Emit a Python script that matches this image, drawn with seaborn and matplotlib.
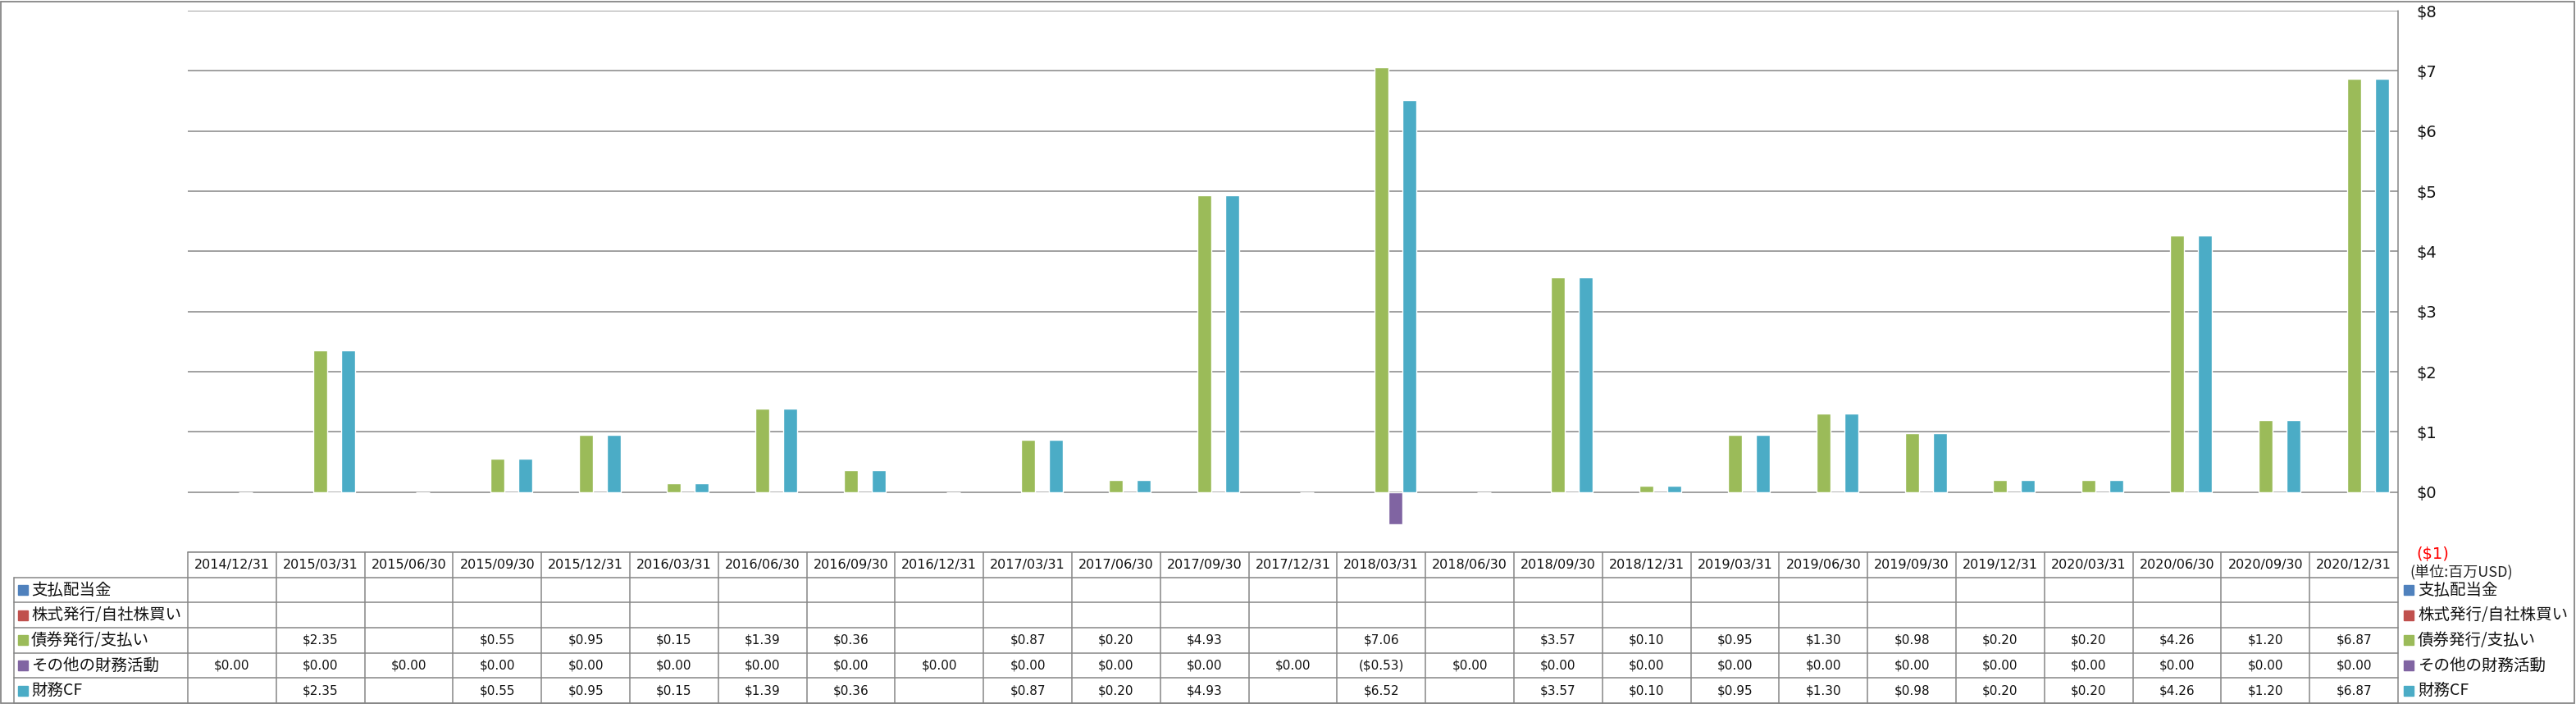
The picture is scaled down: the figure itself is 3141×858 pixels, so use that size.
import numpy as np
import pandas as pd
import matplotlib
matplotlib.use("Agg")
import matplotlib.pyplot as plt
import seaborn as sns
from matplotlib.patches import Rectangle
from matplotlib.lines import Line2D

# ---------------- data ----------------
dates = ["2014/12/31", "2015/03/31", "2015/06/30", "2015/09/30", "2015/12/31",
         "2016/03/31", "2016/06/30", "2016/09/30", "2016/12/31", "2017/03/31",
         "2017/06/30", "2017/09/30", "2017/12/31", "2018/03/31", "2018/06/30",
         "2018/09/30", "2018/12/31", "2019/03/31", "2019/06/30", "2019/09/30",
         "2019/12/31", "2020/03/31", "2020/06/30", "2020/09/30", "2020/12/31"]

series_names = ["支払配当金", "株式発行/自社株買い", "債券発行/支払い", "その他の財務活動", "財務CF"]

dividends = [None, None, None, None, None, None, None, None, None, None, None, None, None,
             None, None, None, None, None, None, None, None, None, None, None, None]
buyback = [None, None, None, None, None, None, None, None, None, None, None, None, None,
           None, None, None, None, None, None, None, None, None, None, None, None]
debt = [None, 2.35, None, 0.55, 0.95, 0.15, 1.39, 0.36, None, 0.87, 0.20, 4.93, None,
        7.06, None, 3.57, 0.10, 0.95, 1.30, 0.98, 0.20, 0.20, 4.26, 1.20, 6.87]
other = [0.00, 0.00, 0.00, 0.00, 0.00, 0.00, 0.00, 0.00, 0.00, 0.00, 0.00, 0.00, 0.00,
         -0.53, 0.00, 0.00, 0.00, 0.00, 0.00, 0.00, 0.00, 0.00, 0.00, 0.00, 0.00]
fin_cf = [None, 2.35, None, 0.55, 0.95, 0.15, 1.39, 0.36, None, 0.87, 0.20, 4.93, None,
          6.52, None, 3.57, 0.10, 0.95, 1.30, 0.98, 0.20, 0.20, 4.26, 1.20, 6.87]

series_values = [dividends, buyback, debt, other, fin_cf]
colors = ["#4F81BD", "#C0504D", "#9BBB59", "#8064A2", "#4BACC6"]
y_ticks = [-1, 0, 1, 2, 3, 4, 5, 6, 7, 8]
unit_label = "(単位:百万USD)"

rows = []
for name, vals in zip(series_names, series_values):
    for d, v in zip(dates, vals):
        rows.append({"date": d, "series": name,
                     "value": np.nan if v is None else float(v)})
df = pd.DataFrame(rows)

# ---------------- style ----------------
sns.set_style("white")
plt.rcParams["font.family"] = ["DejaVu Sans", "Noto Sans CJK JP"]
CJK = ["Noto Sans CJK JP", "DejaVu Sans"]

W, H = 3141, 858
GRID = "#868686"
fig = plt.figure(figsize=(W / 100, H / 100), dpi=100)

PL, PR, PT, PB = 229, 2924, 13, 673   # plot area in pixels
ax = fig.add_axes([PL / W, 1 - PB / H, (PR - PL) / W, (PB - PT) / H])

sns.barplot(data=df, x="date", y="value", hue="series", order=dates,
            hue_order=series_names, palette=colors, width=0.787, gap=0,
            errorbar=None, legend=False, saturation=1, ax=ax)

ax.set_xlim(-0.5, len(dates) - 0.5)
ax.set_ylim(y_ticks[0], y_ticks[-1])
ax.set_yticks(y_ticks)
ax.set_yticklabels([f"${v}" if v >= 0 else f"(${-v})" for v in y_ticks])
ax.yaxis.tick_right()
ax.tick_params(axis="y", length=0, pad=16, labelsize=14, labelcolor="#111111")
for t, v in zip(ax.get_yticklabels(), y_ticks):
    if v < 0:
        t.set_color("#FF0000")
ax.set_xticks([])
ax.set_xlabel("")
ax.set_ylabel("")
ax.grid(axis="y", color=GRID, lw=1.1)
ax.set_axisbelow(True)
for s in ["top", "left", "bottom", "right"]:
    ax.spines[s].set_visible(False)

# ---------------- data table ----------------
TB = 857
tax = fig.add_axes([PL / W, 1 - TB / H, (PR - PL) / W, (TB - PB) / H])
tax.set_xlim(-0.5, len(dates) - 0.5)
tax.set_ylim(6, 0)
tax.axis("off")
colw = (PR - PL) / len(dates)
xl = -0.5 - (PL - 17) / colw
xr = len(dates) - 0.5

def hline(y, x0, x1):
    tax.add_line(Line2D([x0, x1], [y, y], color=GRID, lw=1.1, clip_on=False))

def vline(x, y0, y1):
    tax.add_line(Line2D([x, x], [y0, y1], color=GRID, lw=1.1, clip_on=False))

hline(0, -0.5, xr)
for r in range(1, 7):
    hline(r, xl, xr)
for i in range(len(dates)):
    vline(-0.5 + i, 0, 6)
vline(xl, 1, 6)

for i, d in enumerate(dates):
    tax.text(i, 0.5, d, ha="center", va="center", fontsize=11.5, color="#111111")

for r, (name, vals, c) in enumerate(zip(series_names, series_values, colors), start=1):
    tax.plot([xl + (27.5 - 17) / colw], [r + 0.5], marker="s", ms=8, color=c,
             clip_on=False, ls="none")
    tax.text(xl + (38 - 17) / colw, r + 0.5, name, ha="left", va="center",
             fontsize=14, family=CJK, color="#111111")
    for i, v in enumerate(vals):
        if v is None:
            continue
        s = f"${v:.2f}" if v >= 0 else f"(${-v:.2f})"
        tax.text(i, r + 0.5, s, ha="center", va="center", fontsize=11, color="#111111")
    # right-hand legend
    tax.plot([xr + (2937 - PR) / colw], [r + 0.5], marker="s", ms=8, color=c,
             clip_on=False, ls="none")
    tax.text(xr + (2948 - PR) / colw, r + 0.5, name, ha="left", va="center",
             fontsize=14, family=CJK, color="#111111")

# right axis line running through table
fig.add_artist(Line2D([PR / W, PR / W], [1 - TB / H, 1 - PT / H],
                      transform=fig.transFigure, color=GRID, lw=1.1))

fig.text(2938 / W, 1 - 697 / H, unit_label, ha="left", va="center", fontsize=13,
         family=CJK, color="#222222")

# chart border
fig.add_artist(Rectangle((1 / W, 1 / H), (W - 3) / W, (H - 3) / H, transform=fig.transFigure,
                         fill=False, edgecolor=GRID, lw=1.3))

fig.savefig("out.png", dpi=100)
